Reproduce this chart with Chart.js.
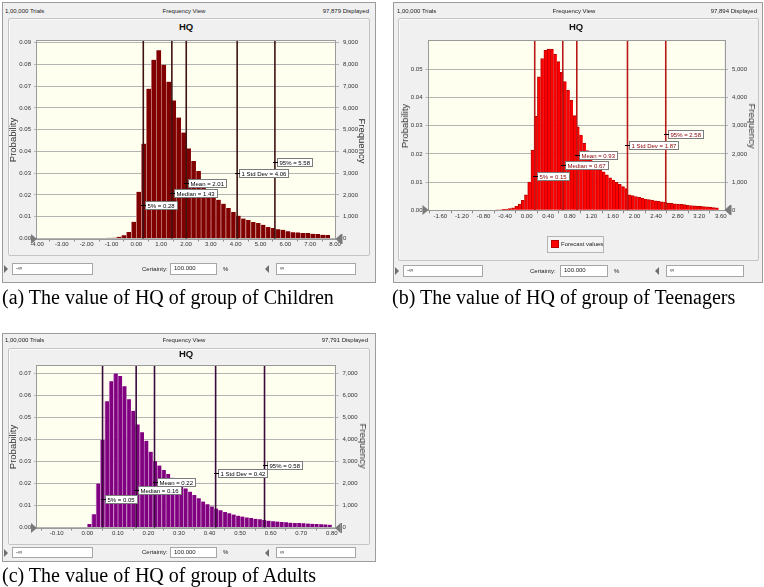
<!DOCTYPE html>
<html><head><meta charset="utf-8">
<script src="https://cdn.jsdelivr.net/npm/chart.js@4.4.1/dist/chart.umd.min.js"></script>
<style>
body{margin:0;width:764px;height:587px;background:#fff;position:relative;overflow:hidden;font-family:"Liberation Sans",Arial,sans-serif}
.frame{position:absolute;background:#f0f0f0;border:1px solid #9c9c9c;box-sizing:border-box}
.inner{position:absolute;background:#f0f0f0;border:1px solid #c4c4c4;box-shadow:inset 1px 1px 0 #fafafa;box-sizing:border-box;border-radius:2px}
.txt{position:absolute;font-size:6px;line-height:7px;height:7px;color:#222;white-space:nowrap}
.cx{transform:translateX(-50%)}
.ttl{position:absolute;font-weight:bold;font-size:9.5px;line-height:10px;color:#111;transform:translateX(-50%);white-space:nowrap}
.rot{position:absolute;font-size:9.5px;line-height:10px;color:#333;white-space:nowrap;transform:translate(-50%,-50%) rotate(-90deg)}
.rot2{position:absolute;font-size:9.5px;line-height:10px;color:#333;white-space:nowrap;transform:translate(-50%,-50%) rotate(90deg)}
canvas{position:absolute}
.inp{position:absolute;background:#fff;border:1px solid #a6a6a6;box-sizing:border-box;font-size:6px;line-height:9px;padding-left:3px;color:#222;white-space:nowrap}
.tr{position:absolute;width:0;height:0;border-top:4px solid transparent;border-bottom:4px solid transparent;border-left:4px solid #6e6e6e}
.tl{position:absolute;width:0;height:0;border-top:4px solid transparent;border-bottom:4px solid transparent;border-right:4px solid #6e6e6e}
.cap{position:absolute;font-family:"Liberation Serif","Times New Roman",serif;font-size:20px;line-height:22px;color:#000;white-space:nowrap}
.leg{position:absolute;border:1px solid #b4b4b4;background:#f4f4f4;box-sizing:border-box}
</style>
</head><body>

<!-- Panel (a) -->
<div class="frame" style="left:2px;top:2px;width:374px;height:281px"></div>
<div class="txt" style="left:5px;top:8px">1,00,000 Trials</div>
<div class="txt cx" style="left:184px;top:8px">Frequency View</div>
<div class="txt" style="right:395px;top:8px">97,879 Displayed</div>
<div class="inner" style="left:8px;top:18px;width:362px;height:238px"></div>
<div class="ttl" style="left:186px;top:22px">HQ</div>
<canvas id="cA" width="359" height="236" style="left:9px;top:19px"></canvas>
<div class="rot" style="left:12.5px;top:140px">Probability</div>
<div class="rot2" style="left:362px;top:141px">Frequency</div>
<div class="tr" style="left:4px;top:265px"></div>
<div class="inp" style="left:12px;top:263px;width:81px;height:12px">-∞</div>
<div class="txt" style="left:142px;top:266px">Certainty:</div>
<div class="inp" style="left:170px;top:263px;width:47px;height:12px">100.000</div>
<div class="txt" style="left:223px;top:266px">%</div>
<div class="tl" style="left:265px;top:265px"></div>
<div class="inp" style="left:276px;top:263px;width:80px;height:12px">∞</div>
<div class="cap" style="left:2px;top:286px">(a) The value of HQ of group of Children</div>

<!-- Panel (b) -->
<div class="frame" style="left:393px;top:2px;width:370px;height:281px"></div>
<div class="txt" style="left:397px;top:8px">1,00,000 Trials</div>
<div class="txt cx" style="left:574px;top:8px">Frequency View</div>
<div class="txt" style="right:7px;top:8px">97,894 Displayed</div>
<div class="inner" style="left:398px;top:18px;width:361px;height:243px"></div>
<div class="ttl" style="left:576px;top:22px">HQ</div>
<canvas id="cB" width="358" height="216" style="left:399px;top:19px"></canvas>
<div class="rot" style="left:405px;top:126px">Probability</div>
<div class="rot2" style="left:752px;top:126px">Frequency</div>
<div class="leg" style="left:547px;top:236px;width:57px;height:17px"></div>
<div style="position:absolute;left:551px;top:240px;width:8px;height:8px;background:#ff0000;border:1px solid #b00000;box-sizing:border-box"></div>
<div class="txt" style="left:561px;top:241px">Forecast values</div>
<div class="tr" style="left:395px;top:267px"></div>
<div class="inp" style="left:403px;top:265px;width:80px;height:12px">-∞</div>
<div class="txt" style="left:530px;top:268px">Certainty:</div>
<div class="inp" style="left:560px;top:265px;width:48px;height:12px">100.000</div>
<div class="txt" style="left:614px;top:268px">%</div>
<div class="tl" style="left:655px;top:267px"></div>
<div class="inp" style="left:666px;top:265px;width:78px;height:12px">∞</div>
<div class="cap" style="left:392px;top:286px">(b) The value of HQ of group of Teenagers</div>

<!-- Panel (c) -->
<div class="frame" style="left:2px;top:333px;width:374px;height:229px"></div>
<div class="txt" style="left:5px;top:337px">1,00,000 Trials</div>
<div class="txt cx" style="left:184px;top:337px">Frequency View</div>
<div class="txt" style="right:396px;top:337px">97,791 Displayed</div>
<div class="inner" style="left:8px;top:348px;width:362px;height:197px"></div>
<div class="ttl" style="left:186px;top:349px">HQ</div>
<canvas id="cC" width="359" height="195" style="left:9px;top:349px"></canvas>
<div class="rot" style="left:13px;top:447px">Probability</div>
<div class="rot2" style="left:363px;top:446px">Frequency</div>
<div class="tr" style="left:4px;top:549px"></div>
<div class="inp" style="left:12px;top:547px;width:81px;height:11px;line-height:8px">-∞</div>
<div class="txt" style="left:142px;top:549px">Certainty:</div>
<div class="inp" style="left:170px;top:547px;width:47px;height:11px;line-height:8px">100.000</div>
<div class="txt" style="left:223px;top:549px">%</div>
<div class="tl" style="left:265px;top:549px"></div>
<div class="inp" style="left:276px;top:547px;width:80px;height:11px;line-height:8px">∞</div>
<div class="cap" style="left:2px;top:564px">(c) The value of HQ of group of Adults</div>

<script>
// ---------- DATA ----------
// (a) Children
const childBins = [-1.3,-1.1,-0.9,-0.7,-0.5,-0.3,-0.1,0.1,0.3,0.5,0.7,0.9,1.1,1.3,1.5,1.7,1.9,2.1,2.3,2.5,2.7,2.9,3.1,3.3,3.5,3.7,3.9,4.1,4.3,4.5,4.7,4.9,5.1,5.3,5.5,5.7,5.9,6.1,6.3,6.5,6.7,6.9,7.1,7.3,7.5,7.7];
const childProb = [0.0002,0.0003,0.0004,0.0008,0.0015,0.0030,0.0077,0.0215,0.0436,0.0689,0.0822,0.0865,0.0799,0.0721,0.0635,0.0556,0.0487,0.0414,0.0356,0.0310,0.0265,0.0225,0.0200,0.0178,0.0160,0.0140,0.0122,0.0105,0.0092,0.0085,0.0076,0.0071,0.0063,0.0053,0.0048,0.0043,0.0040,0.0033,0.0029,0.0028,0.0025,0.0025,0.0022,0.0021,0.0017,0.0016];
const childXTicks = [-4,-3,-2,-1,0,1,2,3,4,5,6,7,8];
const childYTicks = [0,0.01,0.02,0.03,0.04,0.05,0.06,0.07,0.08,0.09];
const childFreqTicks = [0,1000,2000,3000,4000,5000,6000,7000,8000,9000];
const childStats = [0.28,1.43,2.01,4.06,5.58];
const childStatLabels = ['5% = 0.28','Median = 1.43','Mean = 2.01','1 Std Dev = 4.06','95% = 5.58'];

// (b) Teenagers
const teenBins = [-0.55,-0.49,-0.43,-0.37,-0.31,-0.25,-0.19,-0.13,-0.07,-0.01,0.05,0.11,0.17,0.23,0.29,0.35,0.41,0.47,0.53,0.59,0.65,0.71,0.77,0.83,0.89,0.95,1.01,1.07,1.13,1.19,1.25,1.31,1.37,1.43,1.49,1.55,1.61,1.67,1.73,1.79,1.85,1.91,1.97,2.03,2.09,2.15,2.21,2.27,2.33,2.39,2.45,2.51,2.57,2.63,2.69,2.75,2.81,2.87,2.93,2.99,3.05,3.11,3.17,3.23,3.29,3.35,3.41,3.47,3.53];
const teenProb = [0.0002,0.0002,0.0003,0.0004,0.0006,0.0009,0.0014,0.0022,0.0035,0.0055,
0.0100,0.0214,0.0334,0.0474,0.0539,0.0568,0.0572,0.0572,0.0555,0.0528,
0.0490,0.0457,0.0426,0.0390,0.0336,0.0296,0.0267,0.0238,0.0212,0.0188,
0.0168,0.0152,0.0143,0.0137,0.0126,0.0115,0.0107,0.0099,0.0092,0.0084,
0.0077,0.0055,0.0052,0.0049,0.0046,0.0043,0.0040,0.0038,0.0036,0.0034,
0.0032,0.0030,0.0028,0.0026,0.0025,0.0023,0.0022,0.0021,0.0020,0.0018,
0.0017,0.0016,0.0015,0.0014,0.0013,0.0012,0.0011,0.0010,0.0009];
const teenXTicks = [-1.6,-1.2,-0.8,-0.4,0,0.4,0.8,1.2,1.6,2.0,2.4,2.8,3.2,3.6];
const teenYTicks = [0,0.01,0.02,0.03,0.04,0.05];
const teenFreqTicks = [0,1000,2000,3000,4000,5000];
const teenStats = [0.15,0.67,0.93,1.87,2.58];
const teenStatLabels = ['5% = 0.15','Median = 0.67','Mean = 0.93','1 Std Dev = 1.87','95% = 2.58'];

// (c) Adults
const adultBins = [0.0071,0.0214,0.0357,0.0500,0.0643,0.0786,0.0929,0.1071,0.1214,0.1357,0.1500,0.1643,0.1786,0.1929,0.2071,0.2214,0.2357,0.2500,0.2643,0.2786,0.2929,0.3071,0.3214,0.3357,0.3500,0.3643,0.3786,0.3929,0.4071,0.4214,0.4357,0.4500,0.4643,0.4786,0.4929,0.5071,0.5214,0.5357,0.5500,0.5643,0.5786,0.5929,0.6071,0.6214,0.6357,0.6500,0.6643,0.6786,0.6929,0.7071,0.7214,0.7357,0.7500,0.7643,0.7786,0.7929];
const adultProb = [0.0016,0.0060,0.0200,0.0398,0.0575,0.0666,0.0701,0.0690,0.0643,0.0584,
0.0531,0.0469,0.0433,0.0395,0.0345,0.0302,0.0282,0.0262,0.0243,0.0226,
0.0210,0.0194,0.0178,0.0163,0.0148,0.0133,0.0118,0.0106,0.0096,0.0086,
0.0078,0.0071,0.0065,0.0059,0.0054,0.0050,0.0046,0.0043,0.0040,0.0037,
0.0034,0.0031,0.0029,0.0027,0.0025,0.0024,0.0022,0.0021,0.0020,0.0019,
0.0018,0.0017,0.0016,0.0015,0.0014,0.0013];
const adultXTicks = [-0.1,0,0.1,0.2,0.3,0.4,0.5,0.6,0.7,0.8];
const adultYTicks = [0,0.01,0.02,0.03,0.04,0.05,0.06,0.07];
const adultFreqTicks = [0,1000,2000,3000,4000,5000,6000,7000];
const adultStats = [0.05,0.16,0.22,0.42,0.58];
const adultStatLabels = ['5% = 0.05','Median = 0.16','Mean = 0.22','1 Std Dev = 0.42','95% = 0.58'];

const TRIALS_SCALE = 100000;
const FF = '"Liberation Sans", Arial, sans-serif';

// ---------- PLUGINS ----------
const framePlugin = {
  id: 'cbFrame',
  beforeDraw(chart) {
    const {ctx, chartArea: a} = chart;
    ctx.save();
    ctx.fillStyle = '#fffff0';
    ctx.fillRect(a.left, a.top, a.right - a.left, a.bottom - a.top);
    ctx.restore();
  },
  afterDraw(chart) {
    const {ctx, chartArea: a} = chart;
    ctx.save();
    ctx.strokeStyle = '#9a9a9a'; ctx.lineWidth = 1;
    ctx.strokeRect(Math.round(a.left) - 0.5, Math.round(a.top) - 0.5, Math.round(a.right - a.left) + 1, Math.round(a.bottom - a.top) + 1);
    ctx.fillStyle = '#7a7a7a';
    const b = Math.round(a.bottom);
    ctx.beginPath(); ctx.moveTo(a.left - 6, b - 5); ctx.lineTo(a.left, b); ctx.lineTo(a.left - 6, b + 5); ctx.closePath(); ctx.fill();
    ctx.beginPath(); ctx.moveTo(a.right + 6, b - 5); ctx.lineTo(a.right + 0.5, b); ctx.lineTo(a.right + 6, b + 5); ctx.closePath(); ctx.fill();
    ctx.fillRect(a.right + 6, b - 5, 1.5, 10);
    ctx.restore();
  }
};

const markerPlugin = {
  id: 'cbMarkers',
  afterDatasetsDraw(chart, args, o) {
    const {ctx, chartArea: a} = chart;
    const x = chart.scales.x;
    ctx.save();
    o.values.forEach(v => {
      const px = x.getPixelForValue(v);
      ctx.strokeStyle = o.lineColor; ctx.lineWidth = o.lineWidth;
      ctx.beginPath(); ctx.moveTo(px, a.top); ctx.lineTo(px, a.bottom); ctx.stroke();
    });
    ctx.font = '6px ' + FF;
    ctx.textBaseline = 'middle';
    o.labels.forEach((t, i) => {
      const px = Math.round(x.getPixelForValue(o.values[i]));
      const py = Math.round(a.top + o.labelFrac[i] * (a.bottom - a.top));
      const w = Math.ceil(ctx.measureText(t).width) + 5, h = 9;
      const bx = px + 2;
      ctx.fillStyle = '#ffffff'; ctx.fillRect(bx, py - 4, w, h);
      ctx.strokeStyle = '#7c7c7c'; ctx.lineWidth = 1; ctx.strokeRect(bx + 0.5, py - 3.5, w - 1, h - 1);
      ctx.fillStyle = '#000'; ctx.fillRect(px - 2, py, 5, 1);
      ctx.fillStyle = o.textColor; ctx.fillText(t, bx + 2.5, py + 1);
    });
    ctx.restore();
  }
};

function buildChart(id, g, d, st) {
  const canvas = document.getElementById(id);
  const xH = 13;
  const padTop = g.p.top - g.c.top;
  const leftW = g.p.left - g.c.left;
  const rightW = g.c.left + g.c.width - g.p.right;
  const padBottom = g.c.top + g.c.height - g.p.bottom - xH;
  const tickFont = {size: 6, family: FF};
  return new Chart(canvas, {
    type: 'bar',
    data: {datasets: [{
      data: d.bins.map((b, i) => ({x: b, y: d.prob[i]})),
      backgroundColor: st.fill, borderColor: st.edge, borderWidth: st.bw, borderSkipped: false,
      barPercentage: 1, categoryPercentage: 1
    }]},
    options: {
      responsive: false, animation: false, devicePixelRatio: 1,
      layout: {padding: {top: padTop, bottom: padBottom, left: 0, right: 0}},
      plugins: {
        legend: {display: false}, tooltip: {enabled: false},
        cbMarkers: {values: d.stats, labels: d.statLabels, labelFrac: st.labelFrac, lineColor: st.line, lineWidth: 1.6, textColor: st.text}
      },
      scales: {
        x: {type: 'linear', min: g.xmin, max: g.xmax, offset: false,
            afterBuildTicks: s => { s.ticks = d.xTicks.map(v => ({value: v})); },
            afterFit: s => { s.height = xH; },
            grid: {drawOnChartArea: false, drawTicks: true, tickLength: 3, color: '#8a8a8a'},
            border: {display: false},
            ticks: {font: tickFont, color: '#333', padding: -1, maxRotation: 0, autoSkip: false, callback: v => Number(v).toFixed(2)}},
        y: {position: 'left', min: 0, max: g.ymax,
            afterBuildTicks: s => { s.ticks = d.yTicks.map(v => ({value: v})); },
            afterFit: s => { s.width = leftW; },
            grid: {color: '#b4b4b4', tickLength: 3, drawTicks: true},
            border: {display: false},
            ticks: {font: tickFont, color: '#333', padding: 3, callback: v => Number(v).toFixed(2)}},
        y2: {position: 'right', min: 0, max: g.ymax * TRIALS_SCALE,
            afterBuildTicks: s => { s.ticks = d.freqTicks.map(v => ({value: v})); },
            afterFit: s => { s.width = rightW; },
            grid: {drawOnChartArea: false, drawTicks: true, tickLength: 4, color: '#b4b4b4'},
            border: {display: false},
            ticks: {font: tickFont, color: '#333', padding: 4, callback: v => Number(v).toLocaleString('en-US')}}
      }
    },
    plugins: [framePlugin, markerPlugin]
  });
}

buildChart('cA',
  {c: {left: 9, top: 19, width: 359, height: 236}, p: {left: 37, right: 335, top: 41, bottom: 238.5}, xmin: -4, xmax: 8, ymax: 0.0908},
  {bins: childBins, prob: childProb, xTicks: childXTicks, yTicks: childYTicks, freqTicks: childFreqTicks, stats: childStats, statLabels: childStatLabels},
  {fill: '#800000', edge: '#c27b7b', bw: {left: 1, right: 0, top: 0, bottom: 0}, line: '#3e1212', text: '#000', labelFrac: [0.831, 0.77, 0.719, 0.669, 0.613]});

buildChart('cB',
  {c: {left: 399, top: 19, width: 358, height: 216}, p: {left: 428.5, right: 724, top: 41, bottom: 210.3}, xmin: -1.82, xmax: 3.66, ymax: 0.0601},
  {bins: teenBins, prob: teenProb, xTicks: teenXTicks, yTicks: teenYTicks, freqTicks: teenFreqTicks, stats: teenStats, statLabels: teenStatLabels},
  {fill: '#ff0000', edge: '#b80000', bw: {left: 1, right: 0, top: 1, bottom: 0}, line: '#b81818', text: '#8b0000', labelFrac: [0.800, 0.735, 0.671, 0.612, 0.548]});

buildChart('cC',
  {c: {left: 9, top: 349, width: 359, height: 195}, p: {left: 37, right: 334.5, top: 366, bottom: 527.5}, xmin: -0.1645, xmax: 0.809, ymax: 0.0735},
  {bins: adultBins, prob: adultProb, xTicks: adultXTicks, yTicks: adultYTicks, freqTicks: adultFreqTicks, stats: adultStats, statLabels: adultStatLabels},
  {fill: '#800080', edge: '#c07ac0', bw: {left: 1, right: 0, top: 0, bottom: 0}, line: '#3a0a3e', text: '#000', labelFrac: [0.825, 0.770, 0.717, 0.663, 0.611]});
</script>
</body></html>
